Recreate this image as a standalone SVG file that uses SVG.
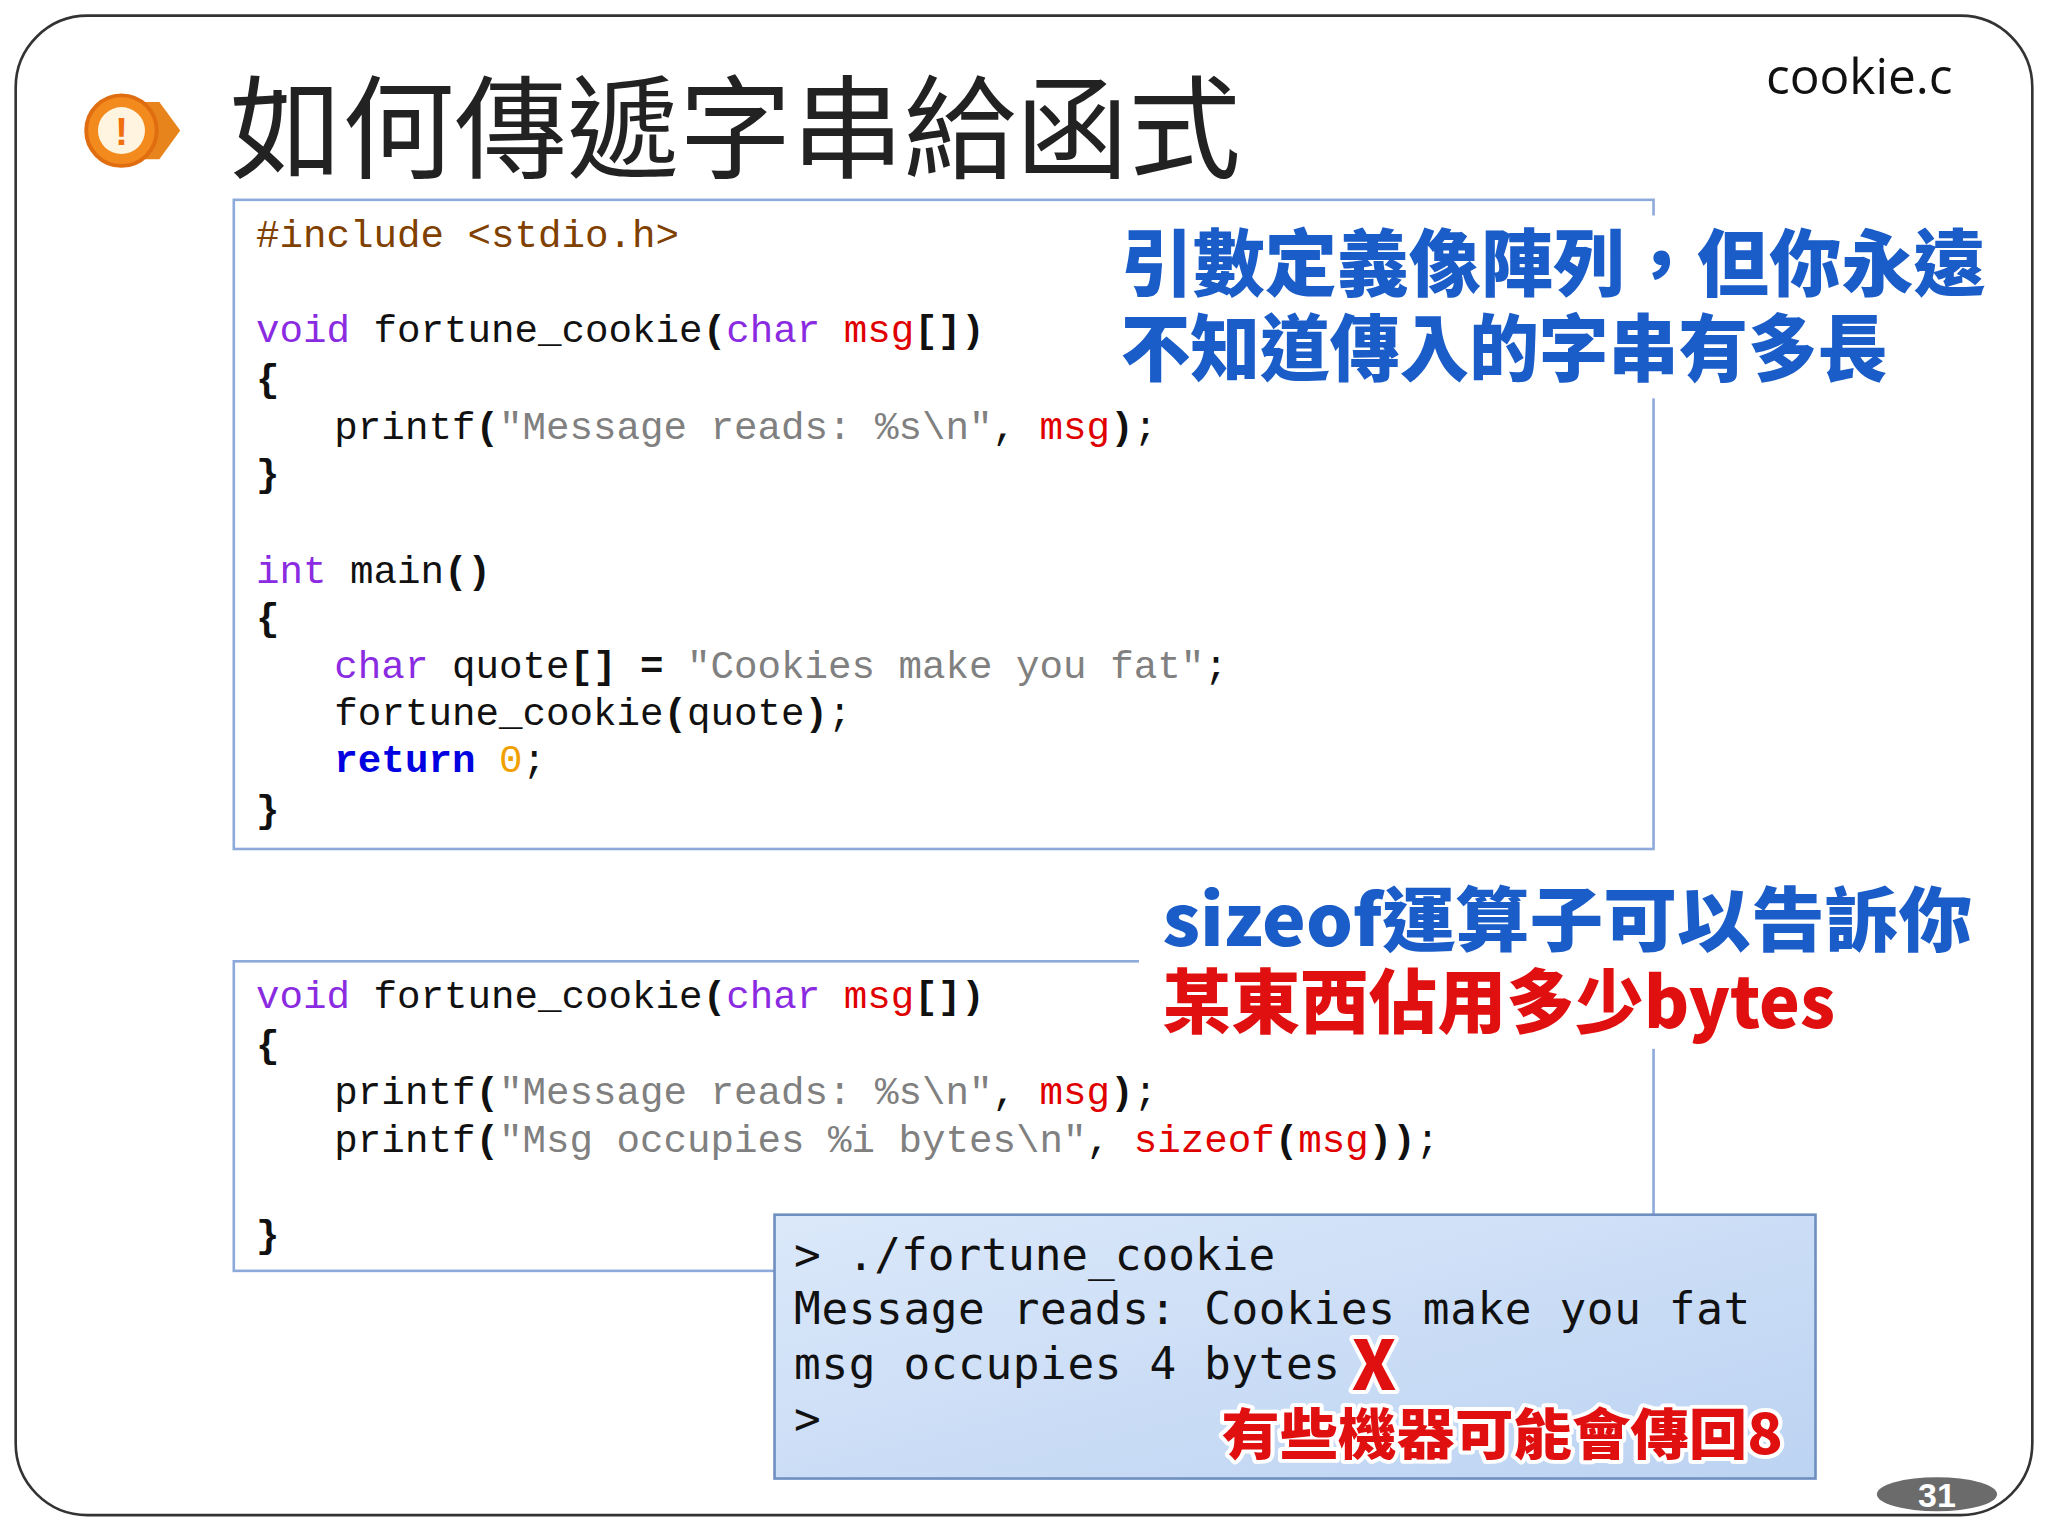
<svg xmlns="http://www.w3.org/2000/svg" width="2048" height="1536" viewBox="0 0 2048 1536">
<style>
.code{font-family:"Liberation Mono","DejaVu Sans Mono",monospace;font-size:30px;fill:#111;white-space:pre}
.kw{fill:#8a2be2}.str{fill:#808080}.red{fill:#e00000}.ret{fill:#0000e0;font-weight:bold}.pp{fill:#804000}.b{font-weight:bold}
.box{fill:#fff;stroke:#8eaadb;stroke-width:2}
.callout{font-family:"Noto Sans CJK TC",sans-serif;font-weight:900;stroke:#fff;stroke-width:6;paint-order:stroke;stroke-linejoin:round}
.term{font-family:"DejaVu Sans Mono",monospace;font-size:34px;fill:#111;white-space:pre}
</style>
<defs>
<linearGradient id="tg" x1="0" y1="0" x2="1" y2="1"><stop offset="0" stop-color="#dbe8fa"/><stop offset="1" stop-color="#bcd3f2"/></linearGradient>
</defs>
<rect width="2048" height="1536" fill="#fff"/>
<g transform="scale(1.30612)">
<rect x="12" y="12" width="1544" height="1148" rx="55" fill="#fff" stroke="#333" stroke-width="2"/>
<g id="icon">
<path d="M95 78 L122 78 L138 100 L122 122 L95 122 Z" fill="#e8841c"/>
<circle cx="93" cy="100" r="27" fill="#f28a1e" stroke="#e06d10" stroke-width="3"/>
<circle cx="93" cy="100" r="18" fill="#fff4e0"/>
<text x="93" y="111" font-family="Liberation Sans,sans-serif" font-weight="bold" font-size="30" fill="#f07010" text-anchor="middle">!</text>
</g>
<text x="176" y="130" font-family="Noto Sans CJK TC,sans-serif" font-size="86" fill="#222">如何傳遞字串給函式</text>
<text x="1495" y="72" text-anchor="end" font-family="Open Sans,Noto Sans,sans-serif" font-size="38" fill="#111">cookie.c</text>
<g id="code1">
<rect class="box" x="179" y="153" width="1087" height="497"/>
<text class="code" x="196" y="189"><tspan class="pp">#include &lt;stdio.h&gt;</tspan></text>
<text class="code" x="196" y="262"><tspan class="kw">void</tspan> fortune_cookie<tspan class="b">(</tspan><tspan class="kw">char</tspan> <tspan class="red">msg</tspan><tspan class="b">[])</tspan></text>
<text class="code b" x="196" y="299">{</text>
<text class="code" x="256" y="336">printf<tspan class="b">(</tspan><tspan class="str">"Message reads: %s\n"</tspan>, <tspan class="red">msg</tspan><tspan class="b">)</tspan>;</text>
<text class="code b" x="196" y="372">}</text>
<text class="code" x="196" y="446"><tspan class="kw">int</tspan> main<tspan class="b">()</tspan></text>
<text class="code b" x="196" y="482">{</text>
<text class="code" x="256" y="519"><tspan class="kw">char</tspan> quote<tspan class="b">[]</tspan> <tspan class="b">=</tspan> <tspan class="str">"Cookies make you fat"</tspan>;</text>
<text class="code" x="256" y="555">fortune_cookie<tspan class="b">(</tspan>quote<tspan class="b">)</tspan>;</text>
<text class="code" x="256" y="591"><tspan class="ret">return</tspan> <tspan fill="#f0a000">0</tspan>;</text>
<text class="code b" x="196" y="629">}</text>
</g>
<g id="callout1">
<rect x="855" y="165" width="675" height="140" fill="#fff"/>
<text class="callout" x="858" y="222" font-size="56" fill="#1a5cc8" textLength="662" lengthAdjust="spacingAndGlyphs">引數定義像陣列，但你永遠</text>
<text class="callout" x="858" y="287" font-size="56" fill="#1a5cc8" textLength="587" lengthAdjust="spacingAndGlyphs">不知道傳入的字串有多長</text>
</g>
<g id="code2">
<rect class="box" x="179" y="736" width="1087" height="237"/>
<text class="code" x="196" y="772"><tspan class="kw">void</tspan> fortune_cookie<tspan class="b">(</tspan><tspan class="kw">char</tspan> <tspan class="red">msg</tspan><tspan class="b">[])</tspan></text>
<text class="code b" x="196" y="809">{</text>
<text class="code" x="256" y="845">printf<tspan class="b">(</tspan><tspan class="str">"Message reads: %s\n"</tspan>, <tspan class="red">msg</tspan><tspan class="b">)</tspan>;</text>
<text class="code" x="256" y="882">printf<tspan class="b">(</tspan><tspan class="str">"Msg occupies %i bytes\n"</tspan>, <tspan class="red">sizeof</tspan><tspan class="b">(</tspan><tspan class="red">msg</tspan><tspan class="b">))</tspan>;</text>
<text class="code b" x="196" y="955">}</text>
</g>
<g id="callout2">
<rect x="872" y="668" width="655" height="135" fill="#fff"/>
<text class="callout" x="890" y="724" font-size="54" fill="#1a5cc8" textLength="620" lengthAdjust="spacingAndGlyphs">sizeof運算子可以告訴你</text>
<text class="callout" x="890" y="787" font-size="54" fill="#e01010" textLength="515" lengthAdjust="spacingAndGlyphs">某東西佔用多少bytes</text>
</g>
<g id="terminal">
<rect x="593" y="930" width="797" height="202" fill="url(#tg)" stroke="#6f8fc0" stroke-width="2"/>
<text class="term" x="608" y="972">&gt; ./fortune_cookie</text>
<text class="term" x="608" y="1014" textLength="732" lengthAdjust="spacing">Message reads: Cookies make you fat</text>
<text class="term" x="608" y="1056" textLength="418" lengthAdjust="spacing">msg occupies 4 bytes</text>
<text class="term" x="608" y="1098">&gt;</text>
<text class="callout" x="1035" y="1064" font-size="52" fill="#e01010" font-family="Liberation Sans,sans-serif">X</text>
<text class="callout" x="935" y="1113" font-size="42" fill="#e01010" textLength="430" lengthAdjust="spacingAndGlyphs">有些機器可能會傳回8</text>
</g>
<g id="page">
<ellipse cx="1483" cy="1144" rx="46" ry="13" fill="#6b6b6b"/>
<text x="1483" y="1154" text-anchor="middle" font-family="Liberation Sans,sans-serif" font-weight="bold" font-size="26" fill="#fff">31</text>
</g>
</g>
</svg>
